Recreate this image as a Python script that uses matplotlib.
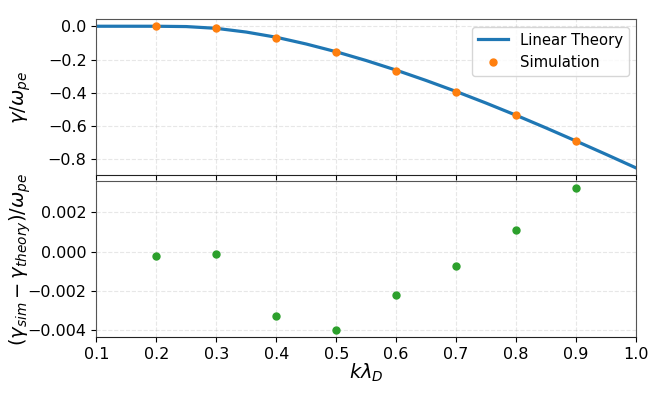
import matplotlib
matplotlib.use('Agg')
import matplotlib.pyplot as plt
import numpy as np

# curva de teoria lineal
k_theory = [0.10, 0.15, 0.20, 0.25, 0.30, 0.35, 0.40, 0.45, 0.50, 0.55,
            0.60, 0.65, 0.70, 0.75, 0.80, 0.85, 0.90, 0.95, 1.00]
gamma_theory = [0.0, 0.0, -0.0001, -0.0020, -0.0126, -0.0350, -0.0661, -0.1067, -0.1533, -0.2060,
                -0.2637, -0.3260, -0.3920, -0.4618, -0.5349, -0.6112, -0.6898, -0.7698, -0.8513]

# puntos de simulacion
k_sim = [0.2, 0.3, 0.4, 0.5, 0.6, 0.7, 0.8, 0.9]
gamma_sim = [-0.0003, -0.0127, -0.0694, -0.1573, -0.2659, -0.3928, -0.5338, -0.6866]
residuo = [-0.00022, -0.00010, -0.00329, -0.00400, -0.00221, -0.00076, 0.00112, 0.00322]

fig, (ax1, ax2) = plt.subplots(2, 1, figsize=(6.64, 3.99), dpi=100, sharex=True)
fig.subplots_adjust(left=0.145, right=0.958, top=0.952, bottom=0.155, hspace=0.04)

ax1.plot(k_theory, gamma_theory, color='#1f77b4', lw=2.3, label='Linear Theory')
ax1.plot(k_sim, gamma_sim, 'o', color='#ff7f0e', ms=5, label='Simulation')
ax1.set_ylabel(r'$\gamma/\omega_{pe}$', fontsize=14)
ax1.set_yticks([-0.8, -0.6, -0.4, -0.2, 0.0])
ax1.legend(loc='upper right', fontsize=10.7)

ax2.plot(k_sim, residuo, 'o', color='#2ca02c', ms=5)
ax2.set_ylabel(r'$(\gamma_{sim} - \gamma_{theory})/\omega_{pe}$', fontsize=14)
ax2.set_xlabel(r'$k\lambda_D$', fontsize=14, labelpad=0)
ax2.set_xlim(0.1, 1.0)
ax2.set_yticks([-0.004, -0.002, 0.0, 0.002])

for ax in (ax1, ax2):
    ax.grid(True, linestyle='--', alpha=0.3)
    ax.tick_params(labelsize=11.5)
    ax.yaxis.set_label_coords(-0.118, 0.5)
    for s in ax.spines.values():
        s.set_color('#555555')
    ax.spines['bottom'].set_color('#222222')

plt.savefig('out.png', dpi=100)
